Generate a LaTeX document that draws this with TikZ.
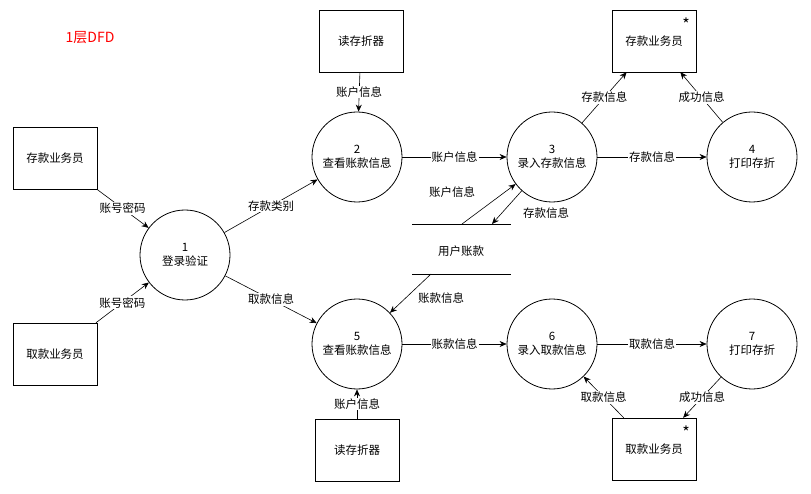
\documentclass[tikz,border=0pt]{standalone}
\usepackage{fontspec}
\setmainfont{Noto Sans CJK SC}
\usetikzlibrary{arrows.meta, positioning}

\begin{document}
\begin{tikzpicture}[
    x=1pt, y=-1pt,
    every node/.style={font=\fontsize{11.5}{14}\selectfont},
    proc/.style={circle, draw, thick, minimum size=90pt, align=center, inner sep=1pt},
    ent/.style={rectangle, draw, minimum width=84pt, minimum height=62pt},
    arrow/.style={-{Stealth[length=7pt, width=6pt]}, line width=0.6pt},
    lbl/.style={fill=white, inner sep=1pt},
]
    \useasboundingbox (0,0) rectangle (811,494);
    \node[text=red, font=\fontsize{14}{16}\selectfont] (title) at (90,38) {1层DFD};

    % Entities
    \node[ent] (depin) at (55,158) {存款业务员};
    \node[ent] (drwin) at (55,354) {取款业务员};
    \node[ent] (readA) at (361,41) {读存折器};
    \node[ent] (depout) at (654,41) {存款业务员};
    \node[font=\fontsize{16}{16}\selectfont] (starA) at (686,24) {*};
    \node[ent] (readB) at (357,450) {读存折器};
    \node[ent] (drwout) at (654,449) {取款业务员};
    \node[font=\fontsize{16}{16}\selectfont] (starB) at (686,432) {*};

    % Processes
    \node[proc] (p1) at (185,255) {1\\登录验证};
    \node[proc] (p2) at (357,157) {2\\查看账款信息};
    \node[proc] (p3) at (552,157) {3\\录入存款信息};
    \node[proc] (p4) at (752,157) {4\\打印存折};
    \node[proc] (p5) at (357,344) {5\\查看账款信息};
    \node[proc] (p6) at (552,344) {6\\录入取款信息};
    \node[proc] (p7) at (752,344) {7\\打印存折};

    % Data store
    \node (store) at (461,251) {用户账款};
    \draw (412,224) -- (511,224);
    \draw (412,274) -- (511,274);
    \coordinate (sUp) at (462,224);
    \coordinate (sIn) at (492,224);
    \coordinate (sDn) at (431,274);

    % Arrows
    \draw[arrow] (depin) -- node[lbl] {账号密码} (p1);
    \draw[arrow] (drwin) -- node[lbl] {账号密码} (p1);
    \draw[arrow] (p1) -- node[lbl] {存款类别} (p2);
    \draw[arrow] (p1) -- node[lbl] {取款信息} (p5);
    \draw[arrow] (readA) -- node[lbl] {账户信息} (p2);
    \draw[arrow] (p2) -- node[lbl] {账户信息} (p3);
    \draw[arrow] (sUp) -- (p3);
    \node[lbl] (lUp) at (452,192) {账户信息};
    \draw[arrow] (p3) -- (sIn);
    \node[lbl] (lIn) at (546,213) {存款信息};
    \draw[arrow] (p3) -- node[lbl] {存款信息} (p4);
    \draw[arrow] (p3) -- node[lbl] {存款信息} (depout);
    \draw[arrow] (p4) -- node[lbl] {成功信息} (depout);
    \draw[arrow] (sDn) -- (p5);
    \node[lbl] (lDn) at (441,298) {账款信息};
    \draw[arrow] (p5) -- node[lbl] {账款信息} (p6);
    \draw[arrow] (readB) -- node[lbl] {账户信息} (p5);
    \draw[arrow] (p6) -- node[lbl] {取款信息} (p7);
    \draw[arrow] (p7) -- node[lbl] {成功信息} (drwout);
    \draw[arrow] (drwout) -- node[lbl] {取款信息} (p6);
\end{tikzpicture}
\end{document}
